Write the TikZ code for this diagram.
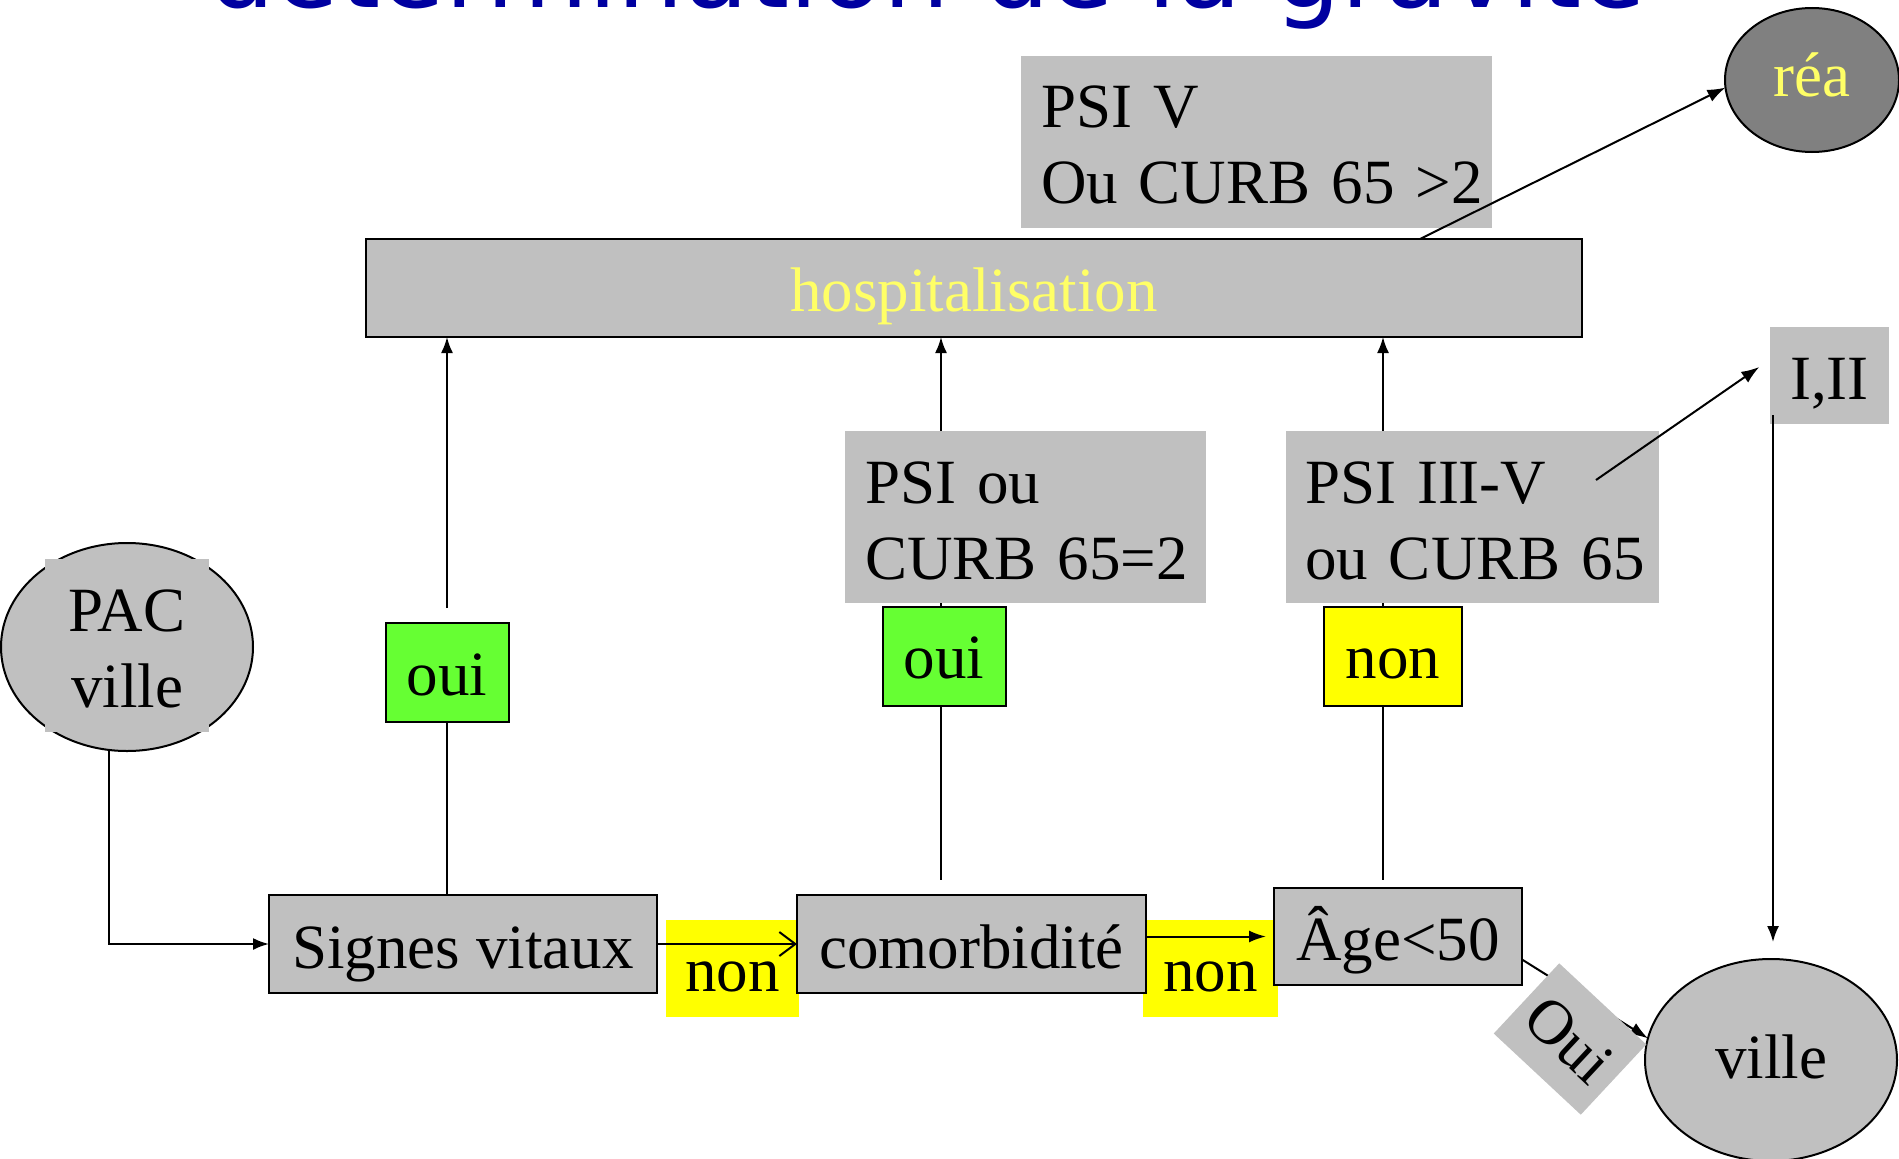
\documentclass[tikz,border=0pt]{standalone}
\usepackage{fontspec}
\setmainfont{Liberation Serif}
\newfontfamily\boxfont{Liberation Serif}[WordSpace=0.75]
\newfontfamily\titlefont{DejaVu Sans}
\usetikzlibrary{shapes.geometric,arrows.meta}
\pgfdeclarelayer{bg}
\pgfsetlayers{bg,main}
\definecolor{boxgray}{RGB}{192,192,192}
\definecolor{reagray}{RGB}{128,128,128}
\definecolor{ouigreen}{RGB}{102,255,51}
\definecolor{nonyellow}{RGB}{255,255,0}
\definecolor{paleyellow}{RGB}{255,255,102}
\definecolor{titleblue}{RGB}{0,0,160}
\begin{document}
\begin{tikzpicture}[x=1pt,y=-1pt,
  every node/.style={font=\fontsize{63}{76}\selectfont, inner sep=0pt, outer sep=0pt},
  framed/.style={rectangle, fill=boxgray, draw=black, line width=2pt, anchor=base},
  plain/.style={rectangle, fill=boxgray, anchor=base west, align=left, font=\boxfont\fontsize{63}{76}\selectfont},
  ouibox/.style={rectangle, fill=ouigreen, draw=black, line width=2pt, anchor=base, minimum width=123pt},
  nonbox/.style={rectangle, fill=nonyellow, anchor=base},
  oval/.style={ellipse, draw=black, line width=2pt, fill=boxgray},
  conn/.style={line width=2pt, draw=black},
  tipL/.style={-{Latex[length=16pt,width=12pt]}},
  tipO/.style={-{Straight Barb[length=16pt,width=24pt]}}
]
\useasboundingbox (0,0) rectangle (1899,1159);
\begin{pgfonlayer}{bg}
  \fill[white] (0,0) rectangle (1899,1159);
\end{pgfonlayer}

% title (only its lower part is on the page)
\node[font=\titlefont\fontsize{105}{110}\selectfont, text=titleblue, anchor=base] (title) at (927,8) {détermination de la gravité};

% top row
\node[framed, minimum width=1216pt, text height=72pt, text depth=26pt, text=paleyellow] (hosp) at (974,311) {hospitalisation};
\node[plain, inner xsep=20pt, text width=431pt, text height=71pt, text depth=101pt] (psiV) at (1021,127) {\mbox{PSI V}\\\mbox{Ou CURB 65 >2}};
\node[oval, fill=reagray, minimum width=174pt, minimum height=144pt, text=paleyellow, text height=40pt, text depth=8pt] (rea) at (1812,80) {réa};
\node[rectangle, fill=boxgray, anchor=base, minimum width=119pt, text height=72pt, text depth=25pt] (iii) at (1829.5,399) {I,II};

% middle row
\node[plain, inner xsep=20pt, text width=321pt, text height=72pt, text depth=100pt] (psiou) at (845,503) {\mbox{PSI ou}\\\mbox{CURB 65=2}};
\node[plain, inner xsep=19pt, text width=335pt, text height=72pt, text depth=100pt] (psi35) at (1286,503) {\mbox{PSI III-V}\\\mbox{ou CURB 65}};
\node[ouibox, text height=72pt, text depth=27pt] (oui1) at (447,695) {oui};
\node[ouibox, text height=71pt, text depth=28pt] (oui2) at (944,678) {oui};
\node[nonbox, draw=black, line width=2pt, minimum width=138pt, text height=71pt, text depth=28pt] (non3) at (1393,678) {non};

% PAC ville
\node[oval, minimum width=252pt, minimum height=208pt] (pac) at (127,647) {};
\node[rectangle, fill=boxgray, anchor=base, text width=164pt, align=center, text height=72pt, text depth=101pt] (pactext) at (127,631) {PAC\\ville};

% bottom row
\node[nonbox, minimum width=133pt, text height=71pt, text depth=26pt] (non1) at (732.5,991) {non};
\node[nonbox, minimum width=135pt, text height=71pt, text depth=26pt] (non2) at (1210.5,991) {non};
\node[framed, minimum width=388pt, text height=73pt, text depth=25pt] (sv) at (463,968) {Signes vitaux};
\node[framed, minimum width=349pt, text height=73pt, text depth=25pt] (com) at (971.5,968) {comorbidité};
\node[framed, minimum width=248pt, text height=72pt, text depth=25pt] (age) at (1398,960) {Âge<50};
\node[oval, minimum width=252pt, minimum height=202pt, text height=44pt, text depth=8pt] (ville) at (1771,1060) {ville};

% connectors behind the boxes
\begin{pgfonlayer}{bg}
  \draw[conn, tipL] ([xshift=-18pt]pac.center) |- (sv.west);
  \draw[conn] (oui1.south) -- (oui1.south |- sv.north);
  \draw[conn, tipL] ([yshift=15pt]oui1.north) -- (oui1.north |- hosp.south);
  \draw[conn] ([xshift=-3pt]oui2.south) -- ([xshift=-3pt,yshift=15pt]oui2.south |- com.north);
  \draw[conn, tipL] ([xshift=-3pt]oui2.north) -- ([xshift=-3pt]oui2.north |- hosp.south);
  \draw[conn] ([xshift=-10pt]non3.south) -- ([xshift=-10pt,yshift=8pt]non3.south |- age.north);
  \draw[conn, tipL] ([xshift=-10pt]non3.north) -- ([xshift=-10pt]non3.north |- hosp.south);
  \draw[conn, -{Latex[length=18pt,width=13pt]}] ([yshift=-23pt]age.east) -- (ville.170);
\end{pgfonlayer}

% rotated label
\node[rectangle, fill=boxgray, rotate=-43, minimum width=119pt, text height=70pt, text depth=26pt] (oui3) at (1570,1039) {Oui};

% connectors on top
\draw[conn, tipO] (sv.east) -- (com.west);
\draw[conn, -{Latex[length=17pt,width=12pt]}, shorten >=8pt] (com.east |- age.west) -- (age.west);
\draw[conn, -{Latex[length=18pt,width=13pt]}] ([xshift=446pt]hosp.north) -- (rea.185);
\coordinate (psiStart) at ([xshift=-63pt,yshift=-49pt]psi35.north east);
\draw[conn, -{Latex[length=18pt,width=13pt]}, shorten >=13pt] (psiStart) -- (iii.165);
\draw[conn, tipL, shorten >=17pt] ([xshift=3pt,yshift=9pt]iii.south west) -- ([xshift=2pt]ville.north);
\end{tikzpicture}
\end{document}
